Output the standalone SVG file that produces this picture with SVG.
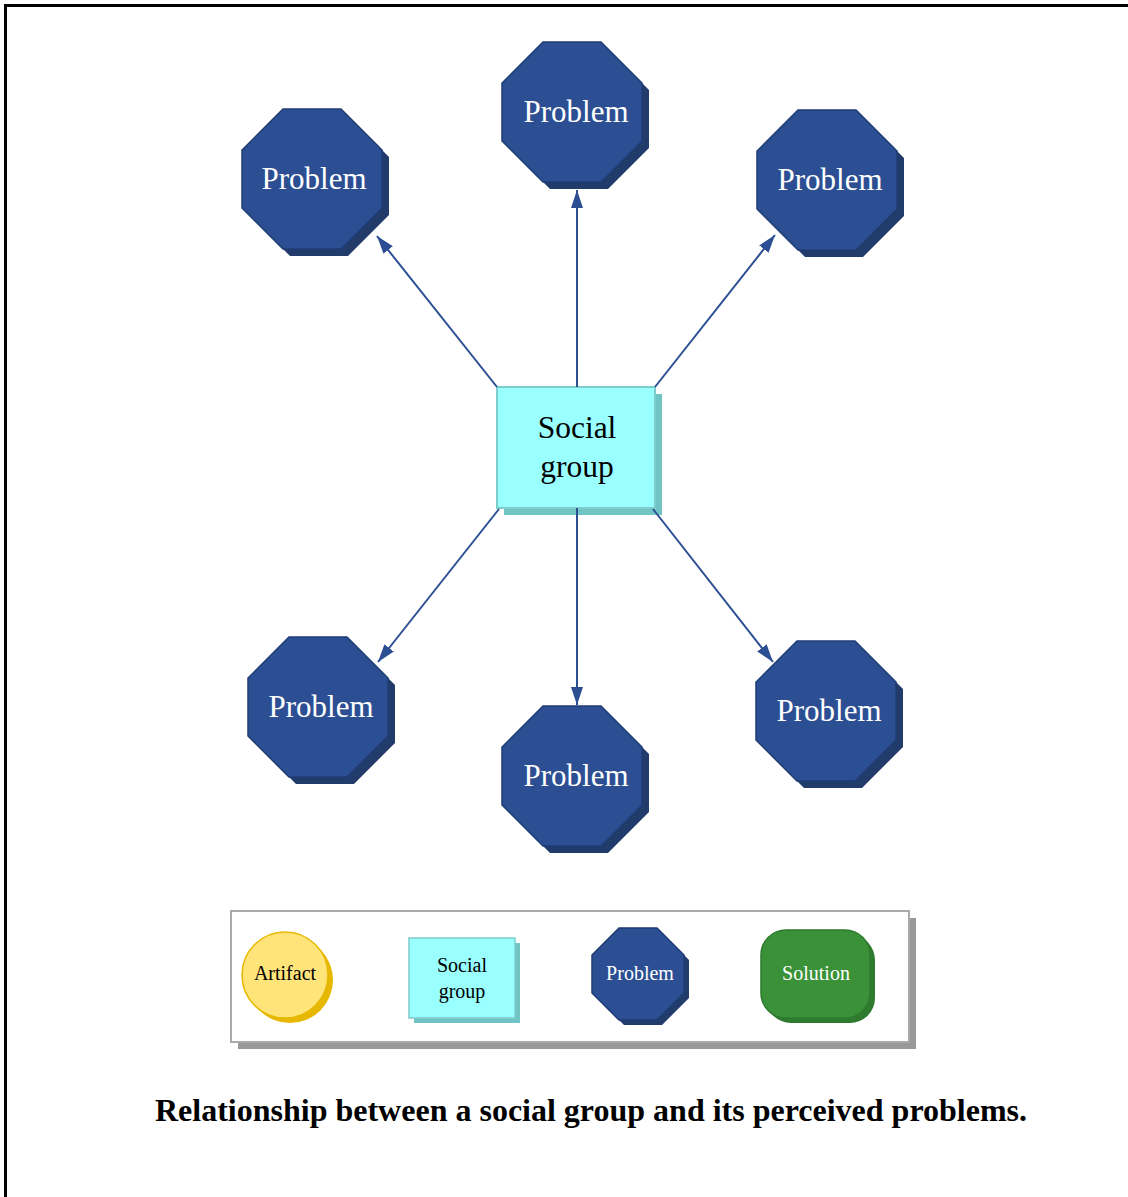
<svg xmlns="http://www.w3.org/2000/svg" width="1128" height="1197" viewBox="0 0 1128 1197">
<defs>
<style>
.oct{fill:#2C4F93;stroke:#1F3C74;stroke-width:1.5}
.octs{fill:#213B6B}
.pt{font-family:"Liberation Serif",serif;fill:#FFFFFF;text-anchor:middle}
.bt{font-family:"Liberation Serif",serif;fill:#000000;text-anchor:middle}
.edge{stroke:#2C4F93;stroke-width:2;fill:none;marker-end:url(#ah)}
</style>
<marker id="ah" viewBox="0 0 18 12" refX="18" refY="6" markerWidth="18" markerHeight="12" markerUnits="userSpaceOnUse" orient="auto">
<path d="M0,0 L18,6 L0,12 Z" fill="#2C4F93"/>
</marker>
<path id="o140" d="M-29,-70 L29,-70 L70,-29 L70,29 L29,70 L-29,70 L-70,29 L-70,-29 Z"/>
<path id="o92" d="M-19,-46 L19,-46 L46,-19 L46,19 L19,46 L-19,46 L-46,19 L-46,-19 Z"/>
</defs>
<rect x="5.5" y="5.5" width="1140" height="1210" fill="#FFFFFF" stroke="#000000" stroke-width="3"/>

<g id="social-group">
<rect x="504" y="394" width="158" height="121" fill="#70C4C4"/>
<rect x="497" y="387" width="158" height="121" fill="#99FFFF" stroke="#7FCCCC" stroke-width="2"/>
<text class="bt" x="577" y="438" font-size="31.5">Social</text>
<text class="bt" x="577" y="477" font-size="31.5">group</text>
</g>

<g id="connectors">
<line class="edge" x1="577" y1="387" x2="577" y2="190"/>
<line class="edge" x1="497" y1="387" x2="377" y2="236"/>
<line class="edge" x1="655" y1="387" x2="775" y2="235"/>
<line class="edge" x1="499" y1="509" x2="378" y2="662"/>
<line class="edge" x1="577" y1="508" x2="577" y2="705"/>
<line class="edge" x1="653" y1="509" x2="773" y2="662"/>
</g>

<g id="problem-tl" transform="translate(312,179)">
<use href="#o140" class="octs" x="7" y="7"/>
<use href="#o140" class="oct"/>
<text class="pt" x="2" y="10" font-size="31">Problem</text>
</g>
<g id="problem-top" transform="translate(572,112)">
<use href="#o140" class="octs" x="7" y="7"/>
<use href="#o140" class="oct"/>
<text class="pt" x="4" y="10" font-size="31">Problem</text>
</g>
<g id="problem-tr" transform="translate(827,180)">
<use href="#o140" class="octs" x="7" y="7"/>
<use href="#o140" class="oct"/>
<text class="pt" x="3" y="10" font-size="31">Problem</text>
</g>
<g id="problem-bl" transform="translate(318,707)">
<use href="#o140" class="octs" x="7" y="7"/>
<use href="#o140" class="oct"/>
<text class="pt" x="3" y="10" font-size="31">Problem</text>
</g>
<g id="problem-bottom" transform="translate(572,776)">
<use href="#o140" class="octs" x="7" y="7"/>
<use href="#o140" class="oct"/>
<text class="pt" x="4" y="10" font-size="31">Problem</text>
</g>
<g id="problem-br" transform="translate(826,711)">
<use href="#o140" class="octs" x="7" y="7"/>
<use href="#o140" class="oct"/>
<text class="pt" x="3" y="10" font-size="31">Problem</text>
</g>

<g id="legend">
<rect x="238" y="918" width="678" height="131" fill="#999999"/>
<rect x="231" y="911" width="678" height="131" fill="#FFFFFF" stroke="#AAAAAA" stroke-width="2"/>
<g id="legend-artifact">
<circle cx="290" cy="980" r="43" fill="#E6B800"/>
<circle cx="285" cy="975" r="43" fill="#FFE47A" stroke="#E6B800" stroke-width="1.5"/>
<text class="bt" x="285" y="980" font-size="20">Artifact</text>
</g>
<g id="legend-social">
<rect x="414" y="943" width="106" height="80" fill="#70C4C4"/>
<rect x="409" y="938" width="106" height="80" fill="#99FFFF" stroke="#7FCCCC" stroke-width="1.5"/>
<text class="bt" x="462" y="972" font-size="20">Social</text>
<text class="bt" x="462" y="998" font-size="20">group</text>
</g>
<g id="legend-problem" transform="translate(638,974)">
<use href="#o92" class="octs" x="5" y="5"/>
<use href="#o92" class="oct"/>
<text class="pt" x="2" y="6" font-size="20">Problem</text>
</g>
<g id="legend-solution">
<rect x="766" y="935" width="109" height="88" rx="25" fill="#2E7A2E"/>
<rect x="761" y="930" width="109" height="88" rx="25" fill="#3A9138" stroke="#2E7A2E" stroke-width="1.5"/>
<text class="pt" x="816" y="980" font-size="20">Solution</text>
</g>
</g>

<text id="caption" class="bt" x="591" y="1121" font-size="32" font-weight="bold">Relationship between a social group and its perceived problems.</text>
</svg>
